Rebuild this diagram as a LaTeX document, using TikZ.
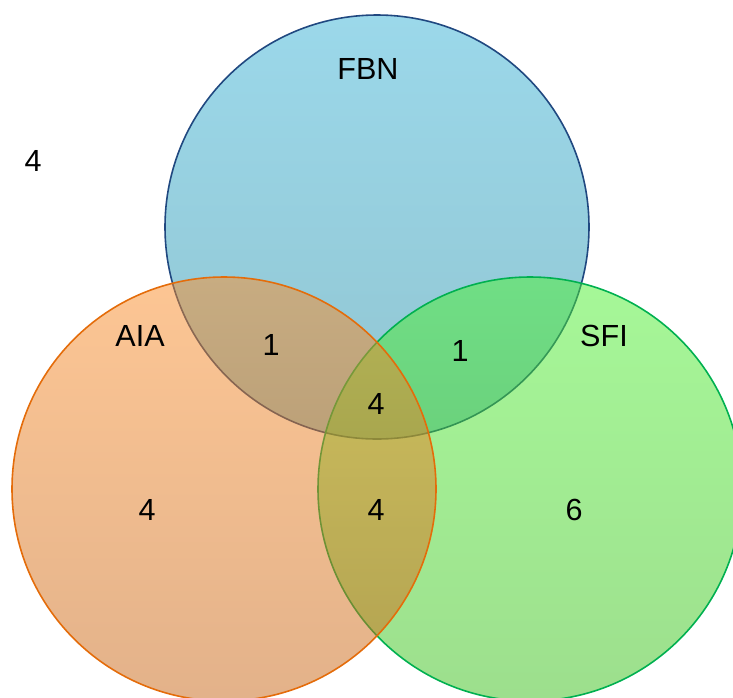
\documentclass[tikz,border=0pt]{standalone}
\usepackage{fontspec}
\setmainfont{Liberation Sans}
\definecolor{fbnTop}{RGB}{155,216,234}
\definecolor{fbnBot}{RGB}{145,197,209}
\definecolor{fbnLine}{RGB}{32,72,128}
\definecolor{aiaTop}{RGB}{251,141,41}
\definecolor{aiaBot}{RGB}{199,101,21}
\definecolor{aiaLine}{RGB}{228,108,10}
\definecolor{sfiTop}{RGB}{77,241,49}
\definecolor{sfiBot}{RGB}{59,191,27}
\definecolor{sfiLine}{RGB}{0,176,80}

\begin{document}
\begin{tikzpicture}[x=0.0264583cm,y=-0.0264583cm,
  lbl/.style={font=\fontsize{23}{28}\selectfont,text=black,inner sep=0pt},
  setline/.style={line width=1.2pt}]
\useasboundingbox (0,0) rectangle (733,697);
\clip (0,0) rectangle (733,697);
% sets, back to front
\draw[setline,draw=fbnLine,top color=fbnTop,bottom color=fbnBot] (377,227) circle (212);
\draw[setline,draw=sfiLine,top color=sfiTop,bottom color=sfiBot,fill opacity=0.5] (530,489) circle (212);
\draw[setline,draw=aiaLine,top color=aiaTop,bottom color=aiaBot,fill opacity=0.5] (224,489) circle (212);

% set names
\node[lbl] (fbn) at (368,69) {FBN};
\node[lbl] (aia) at (140,336) {AIA};
\node[lbl] (sfi) at (604,336) {SFI};

% counts
\node[lbl] (none) at (33,161) {4};
\node[lbl] (fa) at (271,345) {1};
\node[lbl] (fs) at (460,351) {1};
\node[lbl] (fas) at (376,404) {4};
\node[lbl] (a) at (147,510) {4};
\node[lbl] (as) at (376,510) {4};
\node[lbl] (s) at (574,510) {6};
\end{tikzpicture}
\end{document}
